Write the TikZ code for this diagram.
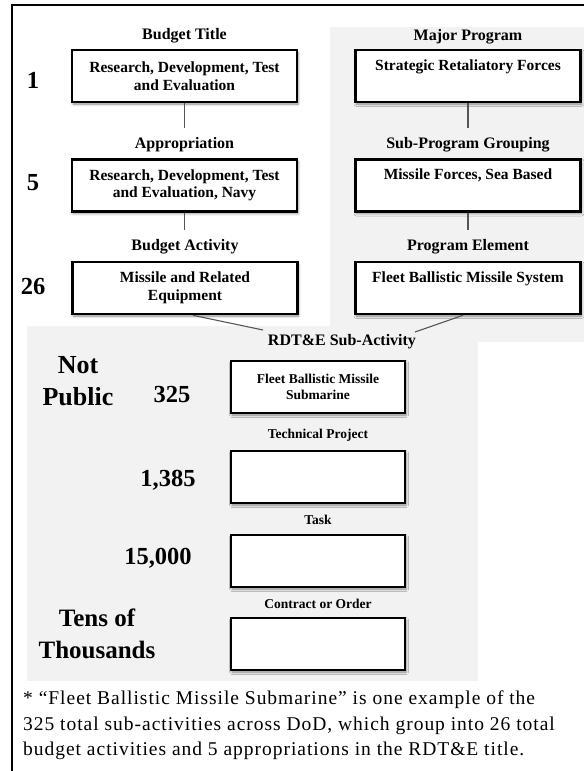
\documentclass[tikz,border=0pt]{standalone}
\usepackage{fontspec}
\setmainfont{Liberation Serif}
\newfontfamily\notefont[LetterSpace=5]{Liberation Serif}
\usetikzlibrary{shadows.blur}
\definecolor{panel}{HTML}{F2F2F2}
\definecolor{linkgray}{HTML}{555555}

\begin{document}
\begin{tikzpicture}[x=1pt,y=-1pt,
  shadowed/.style={blur shadow={shadow xshift=1pt, shadow yshift=-2pt,
      shadow blur radius=2.5pt, shadow opacity=45}},
  levelbox/.style={shadowed, draw=black, line width=2.6pt, fill=white,
      minimum width=225pt, minimum height=52pt, inner sep=0pt, align=center,
      font=\fontsize{15.5}{17.5}\selectfont\bfseries},
  lowbox/.style={levelbox, minimum width=174pt,
      font=\fontsize{13.5}{15.5}\selectfont\bfseries},
  head/.style={inner sep=1pt, font=\fontsize{16}{18}\selectfont\bfseries},
  lowhead/.style={inner sep=1pt, font=\fontsize{13.5}{15}\selectfont\bfseries},
  count/.style={inner sep=1pt, font=\fontsize{24.5}{26}\selectfont\bfseries},
  bigcount/.style={inner sep=1pt, align=center, font=\fontsize{26}{32}\selectfont\bfseries},
  link/.style={draw=linkgray, line width=1.1pt},
  note/.style={inner sep=0pt, anchor=west, font=\notefont\fontsize{19.5}{21}\selectfont}
]
\useasboundingbox (0,0) rectangle (584,771);

% shaded panels
\fill[panel] (330,27) rectangle (584,342);
\fill[panel] (27,326) rectangle (478,681);

% outer frame
\draw[line width=2.4pt] (12,771) -- (12,5) -- (584,5);

% left column: budget structure
\node[head] (h1) at (184.5,36) {Budget Title};
\node[levelbox] (b1) at (184.5,76) {Research, Development, Test\\and Evaluation};
\node[head] (h2) at (184.5,145) {Appropriation};
\node[levelbox] (b2) at (184.5,185.5) {Research, Development, Test\\and Evaluation, Navy};
\node[head] (h3) at (185,247) {Budget Activity};
\node[levelbox] (b3) at (185,288) {Missile and Related\\Equipment};

% right column: program structure
\node[head] (h4) at (468,37) {Major Program};
\node[levelbox] (b4) at (468,76) {Strategic Retaliatory Forces\\\strut};
\node[head] (h5) at (468,145) {Sub-Program Grouping};
\node[levelbox] (b5) at (468,185.5) {Missile Forces, Sea Based\\\strut};
\node[head] (h6) at (468,247) {Program Element};
\node[levelbox] (b6) at (468,288) {Fleet Ballistic Missile System\\\strut};

% lower column: execution detail
\node[head] (h7) at (342,342) {RDT\&E Sub-Activity};
\node[lowbox] (b7) at (318,387) {Fleet Ballistic Missile\\Submarine};
\node[lowhead] (h8) at (318,435) {Technical Project};
\node[lowbox] (b8) at (318,477) {};
\node[lowhead] (h9) at (318,520) {Task};
\node[lowbox] (b9) at (318,561) {};
\node[lowhead] (h10) at (318,604) {Contract or Order};
\node[lowbox] (b10) at (318,644) {};

% counts per level
\node[count] (n1) at (33,80) {1};
\node[count] (n2) at (33,183) {5};
\node[count] (n3) at (33,287) {26};
\node[bigcount] (np) at (78,381) {Not\\Public};
\node[count] (n4) at (172,395) {325};
\node[count] (n5) at (168,480) {1,385};
\node[count] (n6) at (158,558) {15,000};
\node[bigcount, font=\fontsize{25}{32}\selectfont\bfseries] (nt) at (97,634) {Tens of\\Thousands};

% connectors
\coordinate (j2) at (184.5,128);
\coordinate (j3) at (184.5,230);
\coordinate (j5) at (468,128);
\coordinate (j6) at (468,230);
\coordinate (j7l) at (263,330);
\coordinate (j7r) at (415,332);
\draw[link] (b1.south) -- (j2);
\draw[link] (b2.south) -- (j3);
\draw[link] (b4.south) -- (j5);
\draw[link] (b5.south) -- (j6);
\draw[link] ([xshift=8pt]b3.south) -- (j7l);
\draw[link] ([xshift=-5pt]b6.south) -- (j7r);

% footnote
\node[note] (f1) at (23,700) {* “Fleet Ballistic Missile Submarine” is one example of the};
\node[note] (f2) at (23,726) {325 total sub-activities across DoD, which group into 26 total};
\node[note] (f3) at (23,751) {budget activities and 5 appropriations in the RDT\&E title.};
\end{tikzpicture}
\end{document}
